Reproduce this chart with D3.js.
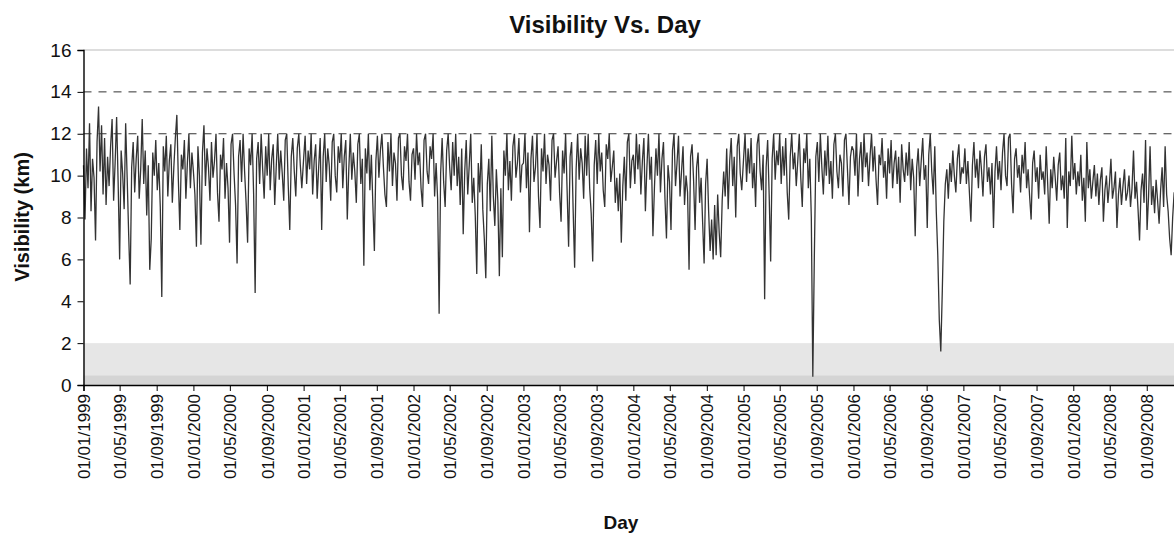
<!DOCTYPE html>
<html><head><meta charset="utf-8">
<script src="https://cdn.jsdelivr.net/npm/d3@7"></script>
<style>
html,body{margin:0;padding:0;background:#fff;}
svg{display:block;font-family:"Liberation Sans",Arial,Helvetica,sans-serif;}
</style></head>
<body>
<svg id="chart" width="1174" height="533"></svg>
<script>
// Visibility (km), one reading every 5 days
const vis1999 = [10.5,7.9,11.3,9.4,12.5,8.3,10.8,9.9,6.9,11.6,13.3,10.2,12.4,9.1,11.8,8.6,10.9,9.5,11.4,12.7,8.8,10.6,12.8,9.7,6.0,11.2,10.1,8.4,12.5,9.9,7.2,4.8,10.4,11.6,9.2,10.8,11.9,8.9,10.3,12.7,9.6,11.2,8.1,10.5,5.5,7.0,11.1,10.0,11.7,9.3,10.6,8.5,4.2,11.4,10.2,11.9,9.0,10.7,11.5,8.7,10.4,11.8,12.9,9.8,7.4,11.0,10.3,11.7,8.9,10.6,12.0,9.4,11.1];
const vis2000 = [10.2,9.1,6.6,11.4,10.0,6.7,11.1,12.4,9.5,11.3,10.4,8.8,11.6,9.9,10.7,12.0,9.2,7.8,11.0,10.3,11.8,8.9,10.6,9.4,6.8,11.5,12.0,10.1,8.6,5.8,10.9,11.7,9.7,12.0,10.2,8.7,6.8,11.3,10.5,12.0,9.1,4.4,10.8,11.6,9.6,12.0,10.3,8.9,11.4,10.0,12.0,9.3,10.8,11.5,8.6,10.4,12.0,9.8,11.2,10.1,8.8,11.7,12.0,9.5,7.4,10.9,11.8,10.2,9.0,11.3,12.0,10.5,9.4];
const vis2001 = [10.8,11.9,9.6,11.2,10.3,12.0,9.1,10.7,11.5,8.9,10.4,11.8,7.4,10.9,12.0,9.7,11.3,10.5,8.8,11.6,12.0,10.0,9.2,11.4,10.6,12.0,9.4,10.9,11.7,7.9,10.3,12.0,9.8,11.1,10.2,8.7,11.5,12.0,9.6,10.8,5.7,11.3,10.1,12.0,9.3,11.0,8.6,6.4,10.7,11.9,9.9,11.2,12.0,10.4,9.1,8.5,11.6,10.2,12.0,9.5,11.1,10.6,8.8,11.8,12.0,10.0,9.3,11.4,10.7,12.0,9.7,8.8,11.0];
const vis2002 = [11.3,9.8,12.0,10.5,11.1,9.4,8.5,11.7,12.0,10.2,9.6,11.4,10.8,12.0,9.0,10.6,8.9,3.4,10.1,11.8,9.7,8.5,11.2,12.0,10.4,9.3,11.6,10.0,12.0,9.5,10.9,8.6,11.3,7.2,10.2,11.7,9.1,10.5,12.0,8.7,9.9,8.1,5.3,10.6,9.2,11.5,8.4,7.0,5.1,9.6,10.8,8.3,11.9,9.0,7.6,10.3,8.8,5.2,9.4,6.1,11.2,10.0,12.0,9.3,10.7,8.8,11.4,12.0,9.9,10.6,11.8,9.2,10.5];
const vis2003 = [10.6,12.0,9.4,11.1,7.3,10.8,11.9,9.7,10.4,12.0,9.0,7.5,11.3,10.2,12.0,9.6,11.0,10.5,8.8,11.7,12.0,9.9,10.7,11.4,9.2,7.8,11.2,10.1,12.0,9.3,6.6,10.9,11.6,8.4,5.6,10.3,12.0,9.8,11.3,10.6,8.9,11.9,10.0,12.0,9.4,8.2,5.9,10.5,11.7,9.6,12.0,10.2,11.1,9.3,8.5,11.5,10.8,12.0,9.7,10.4,11.2,8.7,9.9,8.3,10.1,6.8,9.5,10.9,8.8,11.6,12.0,9.4,10.7];
const vis2004 = [11.0,9.6,12.0,10.3,11.5,9.1,10.7,11.8,8.3,10.4,12.0,9.8,10.9,7.1,9.4,11.3,10.0,12.0,9.2,10.8,11.6,8.9,7.0,10.5,9.7,7.4,11.2,12.0,9.5,10.6,11.9,9.0,10.2,11.4,8.6,10.0,9.2,5.5,10.9,11.5,9.8,7.4,10.4,11.1,8.7,9.9,7.8,5.8,9.6,10.8,8.3,6.4,7.9,6.0,8.6,6.2,9.1,7.3,6.1,8.8,10.2,9.0,11.3,8.4,10.7,11.8,9.5,10.9,8.0,11.4,12.0,10.1,9.3];
const vis2005 = [10.8,12.0,9.7,11.3,10.1,11.8,9.4,10.6,8.5,11.5,12.0,10.2,9.3,11.0,4.1,10.4,11.7,9.1,5.9,10.8,12.0,9.8,11.2,10.5,12.0,9.6,11.4,10.0,11.8,9.2,7.9,10.9,12.0,10.3,11.1,9.5,10.7,12.0,9.9,8.5,11.3,10.6,12.0,9.4,10.8,8.0,0.4,6.1,10.9,11.6,9.7,12.0,10.4,9.1,11.2,10.0,11.9,9.6,10.7,8.9,11.5,12.0,10.2,9.4,11.0,10.6,9.0,11.7,12.0,10.3,8.6,10.9,11.4];
const vis2006 = [11.2,10.0,12.0,9.0,10.8,11.6,9.7,12.0,10.4,11.1,9.5,10.9,12.0,10.2,11.4,9.8,8.6,11.0,10.5,11.8,9.9,10.7,8.9,11.3,10.1,11.7,9.4,10.6,11.2,9.6,10.9,8.7,11.5,10.3,9.7,11.1,10.0,11.6,9.3,10.8,9.9,7.1,10.4,11.3,9.5,10.7,11.8,9.8,10.5,7.5,11.0,12.0,10.2,9.1,11.4,8.3,6.2,3.1,1.6,4.5,7.8,9.6,10.3,8.9,10.6,9.7,11.2,10.0,9.2,10.8,11.5,9.6,10.4];
const vis2007 = [10.1,11.3,9.6,10.7,9.2,7.8,10.5,11.6,9.9,10.8,9.4,11.2,10.3,9.0,10.9,11.5,9.7,10.4,9.1,10.6,7.5,10.2,11.4,9.8,10.7,9.3,11.1,12.0,10.0,9.5,11.8,12.0,9.6,8.2,10.8,11.3,9.9,10.5,9.2,11.0,10.1,11.6,9.4,10.3,9.0,7.9,10.6,11.2,9.7,10.4,8.9,11.0,9.8,10.2,9.1,11.4,9.6,7.7,10.3,9.4,10.9,9.9,8.8,10.5,11.1,9.3,10.0,8.9,11.8,7.5,10.2,9.5,11.9];
const vis2008 = [9.8,10.6,9.1,10.2,9.5,11.0,8.8,9.9,7.8,11.6,9.4,10.3,8.9,9.7,10.5,9.0,10.1,8.6,9.8,10.4,7.8,9.3,10.0,8.7,9.6,10.8,8.9,9.4,10.2,7.5,9.1,9.9,8.6,9.5,10.3,8.8,9.2,10.0,8.5,9.4,11.2,8.9,9.7,8.4,6.9,9.3,10.1,8.7,11.7,7.4,9.0,11.4,8.6,9.5,8.2,9.8,8.8,7.7,9.3,10.4,8.5,11.4,9.1,8.3,7.0,6.2,8.0,9.2,8.6,9.7,8.9,9.4,8.8];
const years = [1999,2000,2001,2002,2003,2004,2005,2006,2007,2008];
const yearSeries = [vis1999,vis2000,vis2001,vis2002,vis2003,vis2004,vis2005,vis2006,vis2007,vis2008];
const yTicks = [0,2,4,6,8,10,12,14,16];
const tickLabels = ["01/01/1999","01/05/1999","01/09/1999","01/01/2000","01/05/2000","01/09/2000","01/01/2001","01/05/2001","01/09/2001","01/01/2002","01/05/2002","01/09/2002","01/01/2003","01/05/2003","01/09/2003","01/01/2004","01/05/2004","01/09/2004","01/01/2005","01/05/2005","01/09/2005","01/01/2006","01/05/2006","01/09/2006","01/01/2007","01/05/2007","01/09/2007","01/01/2008","01/05/2008","01/09/2008"];
const refLines = [12,14];
const lowBand = [0,2];

(function () {
const parse = d3.timeParse("%d/%m/%Y");
const data = [];
years.forEach((yr, k) => {
  yearSeries[k].forEach((v, i) => data.push({date: new Date(yr, 0, 1 + 5 * i), value: v}));
});

const svg = d3.select("#chart");
const mLeft = 83.5, mBottom = 385, mTop = 50, W = 1174;
const x = d3.scaleTime().domain([new Date(1999,0,1), new Date(2009,0,1)]).range([mLeft, mLeft + 1100]);
const y = d3.scaleLinear().domain([0,16]).range([mBottom, mTop]);

// low-visibility band
svg.append("rect")
  .attr("x", mLeft).attr("y", y(lowBand[1]))
  .attr("width", W - mLeft).attr("height", y(lowBand[0]) - y(lowBand[1]))
  .attr("fill", "#e6e6e6");
svg.append("rect")
  .attr("x", mLeft).attr("y", y(0.45))
  .attr("width", W - mLeft).attr("height", y(0) - y(0.45))
  .attr("fill", "#d4d4d4");

// top border (dotted) and reference dashed lines
svg.append("line").attr("x1", mLeft).attr("x2", W).attr("y1", y(16)).attr("y2", y(16))
  .attr("stroke", "#777").attr("stroke-width", 1).attr("stroke-dasharray", "1,1");
refLines.forEach(v => {
  svg.append("line").attr("x1", mLeft).attr("x2", W).attr("y1", y(v)).attr("y2", y(v))
    .attr("stroke", "#333").attr("stroke-width", 1).attr("stroke-dasharray", "8,7");
});

// series
const line = d3.line().x(d => x(d.date)).y(d => y(d.value));
svg.append("path").datum(data).attr("d", line)
  .attr("fill", "none").attr("stroke", "#333").attr("stroke-width", 1.3)
  .attr("stroke-linejoin", "miter");

// axes
const yAxis = d3.axisLeft(y).tickValues(yTicks).tickSize(6).tickPadding(6);
const gy = svg.append("g").attr("transform", `translate(${mLeft},0)`).call(yAxis);
gy.select(".domain").attr("stroke", "#000").attr("stroke-width", 1.4);
gy.selectAll(".tick line").attr("stroke", "#000");
gy.selectAll(".tick text").attr("font-size", 19).attr("fill", "#111");

const tickDates = tickLabels.map(parse);
const xAxis = d3.axisBottom(x).tickValues(tickDates).tickSize(6).tickFormat(d3.timeFormat("%d/%m/%Y"));
const gx = svg.append("g").attr("transform", `translate(0,${mBottom})`).call(xAxis);
gx.select(".domain").attr("stroke", "#000").attr("stroke-width", 1.4);
gx.selectAll(".tick line").attr("stroke", "#000");
gx.selectAll(".tick text")
  .attr("font-size", 17).attr("fill", "#111")
  .attr("text-anchor", "end")
  .attr("transform", "rotate(-90)")
  .attr("x", -9).attr("y", 0).attr("dy", "0.36em");

// titles
svg.append("text").attr("x", 605).attr("y", 33).attr("text-anchor", "middle")
  .attr("font-size", 24).attr("font-weight", "bold").attr("fill", "#111").text("Visibility Vs. Day");
svg.append("text").attr("x", 621).attr("y", 529).attr("text-anchor", "middle")
  .attr("font-size", 19).attr("font-weight", "bold").attr("fill", "#111").text("Day");
svg.append("text").attr("transform", "translate(29,217) rotate(-90)").attr("text-anchor", "middle")
  .attr("font-size", 20).attr("font-weight", "bold").attr("fill", "#111").text("Visibility (km)");
})();
</script>
</body></html>
